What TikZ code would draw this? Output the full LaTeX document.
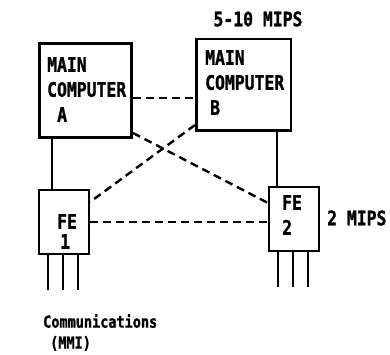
\documentclass[tikz,border=0pt]{standalone}
\usepackage{fontspec}
\newfontfamily\diagfont{DejaVu Sans Mono Bold}[FakeStretch=0.82, FakeBold=1.2]
\usepackage{tikz}
\usetikzlibrary{positioning}
\newcommand{\boxfont}{\fontsize{20}{25}\selectfont\diagfont}
\newcommand{\commfont}{\fontsize{16.5}{21}\selectfont\diagfont}

\begin{document}
\begin{tikzpicture}[
  x=1pt, y=-1pt,
  comp/.style={draw, line width=3pt, minimum width=92pt, minimum height=94pt, inner sep=0pt},
  fe/.style={draw, line width=2pt, minimum width=50pt, minimum height=64pt, inner sep=0pt},
  boxtext/.style={anchor=north west, inner sep=0pt, align=left, font=\boxfont},
  link/.style={line width=1.2pt},
  remote/.style={line width=2.4pt, dash pattern=on 8pt off 5pt},
  leg/.style={line width=1.2pt},
  note/.style={inner sep=0pt, font=\boxfont}
]
\useasboundingbox (0,0) rectangle (390,355);

% ---- main computers ----
\node[comp] (compA) at (85.5,90.5) {};
\node[boxtext] (compAtxt) at ([shift={(9,15)}]compA.north west) {MAIN\\COMPUTER\\\hspace*{10pt}A};
\node[comp, line width=2.5pt, minimum width=94.5pt, minimum height=91.5pt] (compB) at (243.5,85) {};
\node[boxtext] (compBtxt) at ([shift={(10,12)}]compB.north west) {MAIN\\COMPUTER\\\hspace*{5pt}B};
\node[note] (mipsB) at (258,19) {5-10 MIPS};

% ---- front ends ----
\node[fe] (fe1) at (64,222) {};
\node[boxtext, font=\fontsize{20}{20}\selectfont\diagfont] (fe1txt) at ([shift={(19,25)}]fe1.north west) {FE\\\hspace*{3pt}1};
\node[fe] (fe2) at (294,219) {};
\node[boxtext] (fe2txt) at ([shift={(14,9)}]fe2.north west) {FE\\2};
\node[note, anchor=west] (mipsFE) at (327,218) {2 MIPS};

% ---- solid links computer -> front end ----
\draw[link] ([xshift=14pt]compA.south west) -- ([xshift=14pt]compA.south west |- fe1.north);
\draw[link] ([xshift=9pt]fe2.north west |- compB.south) -- ([xshift=9pt]fe2.north west);

% ---- dashed cross links ----
\draw[remote] ([yshift=-7.5pt]compA.east) -- ([yshift=-7.5pt]compA.east -| compB.west);
\draw[remote] ([yshift=6pt]compA.south east) -- ([yshift=-17pt]fe2.north west);
\draw[remote] ([yshift=7pt]compB.south west) -- ([yshift=-13pt]fe1.north east);
\draw[remote] (fe1.east) -- (fe1.east -| fe2.west);

% ---- communication lines ----
\foreach \dx in {-16,-1,14} {
  \draw[leg] ([xshift=\dx pt]fe1.south) -- ++(0,35);
  \draw[leg] ([xshift=\dx pt]fe2.south) -- ++(0,35);
}
\node[inner sep=0pt, anchor=west, align=left, font=\commfont] (comm) at (43,332.5) {Communications\\\hspace*{7pt}(MMI)};

\end{tikzpicture}
\end{document}
